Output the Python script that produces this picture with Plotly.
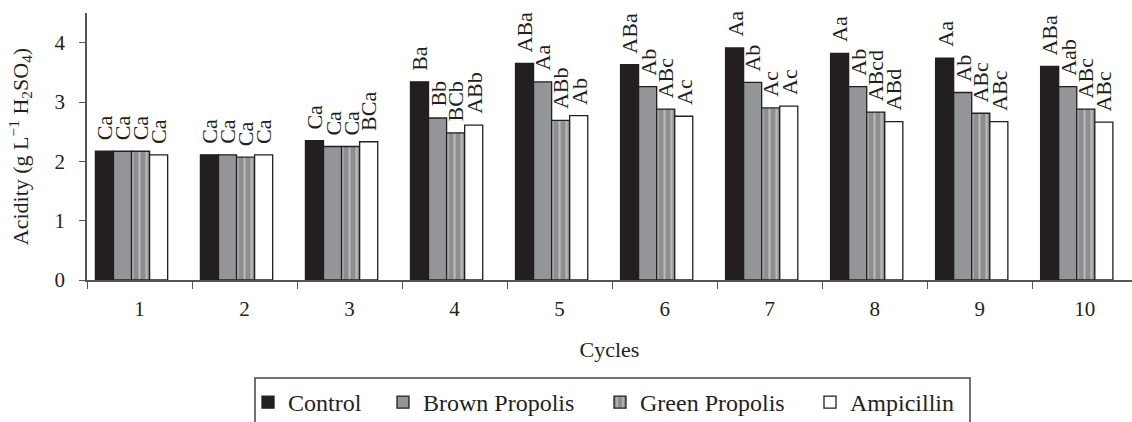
import plotly.graph_objects as go

cycles = ["1", "2", "3", "4", "5", "6", "7", "8", "9", "10"]
control = [2.17, 2.11, 2.35, 3.34, 3.65, 3.63, 3.91, 3.82, 3.74, 3.60]
brown = [2.17, 2.11, 2.25, 2.73, 3.34, 3.26, 3.33, 3.26, 3.16, 3.26]
green = [2.17, 2.07, 2.25, 2.48, 2.69, 2.88, 2.90, 2.83, 2.81, 2.88]
ampicillin = [2.11, 2.11, 2.33, 2.61, 2.77, 2.76, 2.93, 2.67, 2.67, 2.66]

control_lbl = ["Ca", "Ca", "Ca", "Ba", "ABa", "ABa", "Aa", "Aa", "Aa", "ABa"]
brown_lbl = ["Ca", "Ca", "Ca", "Bb", "Aa", "Ab", "Ab", "Ab", "Ab", "Aab"]
green_lbl = ["Ca", "Ca", "Ca", "BCb", "ABb", "ABc", "Ac", "ABcd", "ABc", "ABc"]
amp_lbl = ["Ca", "Ca", "BCa", "ABb", "Ab", "Ac", "Ac", "ABd", "ABc", "ABc"]

FONT = "Liberation Serif"
INK = "#231f20"
AXC = "#555555"

series = [
    ("Control", control, control_lbl, dict(color="#231f20")),
    ("Brown Propolis", brown, brown_lbl, dict(color="#939598")),
    ("Green Propolis", green, green_lbl,
     dict(color="#8c8e90", pattern=dict(shape="|", fgcolor="#e6e6e6", bgcolor="#8c8e90",
                                         size=7, solidity=0.3))),
    ("Ampicillin", ampicillin, amp_lbl, dict(color="#ffffff")),
]
legend_ids = ["legend", "legend2", "legend3", "legend4"]
legend_x_px = [248, 383, 600, 810]

BW = 0.172
START = -0.42

fig = go.Figure()
annotations = []
for k, (name, vals, lbls, mk) in enumerate(series):
    off = START + k * BW
    fig.add_trace(go.Bar(
        name=name, x=cycles, y=vals, offset=off, width=BW,
        marker=dict(**mk, line=dict(color=INK, width=1.3)),
        legend=legend_ids[k],
    ))
    for i, (v, t) in enumerate(zip(vals, lbls)):
        annotations.append(dict(
            x=i + off + BW / 2, y=v, xref="x", yref="y", text=t,
            textangle=-90, showarrow=False, xanchor="center", yanchor="bottom",
            yshift=9, font=dict(family=FONT, size=22, color=INK),
        ))

W, H = 1132, 422
L, T, B = 87, 13, 142
plot_w = W - L
plot_h = H - T - B

legend_cfgs = {}
for lid, px in zip(legend_ids, legend_x_px):
    legend_cfgs[lid] = dict(
        orientation="h", xref="container", yref="container",
        x=px / W, xanchor="left", y=1 - 380 / H, yanchor="top",
        borderwidth=0, bgcolor="rgba(0,0,0,0)",
        font=dict(family=FONT, size=24, color=INK),
        itemwidth=30,
    )

fig.update_layout(
    width=W, height=H,
    margin=dict(l=L, r=0, t=T, b=B),
    plot_bgcolor="white", paper_bgcolor="white",
    barmode="overlay",
    font=dict(family=FONT, size=22, color=INK),
    annotations=annotations,
    showlegend=True,
    shapes=[dict(
        type="rect", xref="paper", yref="paper",
        x0=(255 - L) / plot_w, x1=(970 - L) / plot_w,
        y0=(T + plot_h - 378) / plot_h, y1=(T + plot_h - 440) / plot_h,
        line=dict(color="#444444", width=1.5), fillcolor="rgba(0,0,0,0)",
    )],
    xaxis=dict(
        type="category", range=[-0.5, 9.45],
        showline=True, linecolor=AXC, linewidth=1.5,
        ticks="outside", tickson="boundaries", ticklen=7, tickcolor=AXC, tickwidth=1.3,
        showgrid=False, zeroline=False,
        tickfont=dict(family=FONT, size=21, color=INK),
        ticklabelstandoff=9,
        title=dict(text="Cycles", font=dict(family=FONT, size=22, color=INK), standoff=22),
        automargin=False,
    ),
    yaxis=dict(
        range=[0, 4.5], tickvals=[0, 1, 2, 3, 4],
        showline=True, linecolor=AXC, linewidth=1.5,
        ticks="outside", ticklen=6, tickcolor=AXC, tickwidth=1.3,
        showgrid=False, zeroline=False,
        tickfont=dict(family=FONT, size=21, color=INK),
        ticklabelstandoff=10,
        title=dict(text="Acidity (g L<sup>\u22121</sup> H<sub>2</sub>SO<sub>4</sub>)",
                   font=dict(family=FONT, size=22, color=INK), standoff=20),
        automargin=False,
    ),
    **legend_cfgs,
)

fig.write_html("out.html")
